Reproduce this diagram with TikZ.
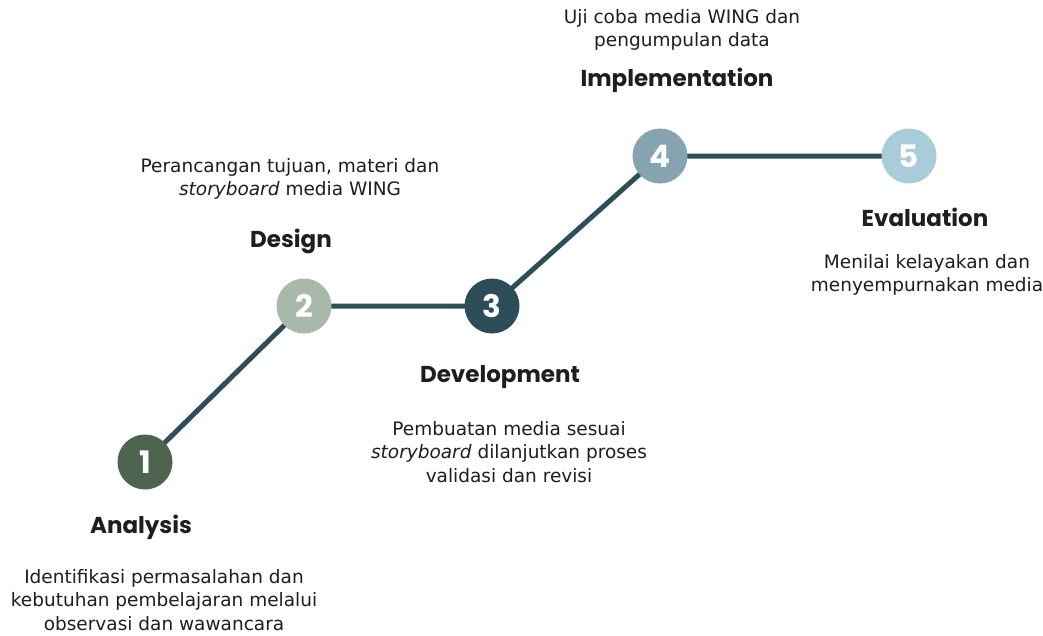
\documentclass[tikz,border=0pt]{standalone}
\usepackage{fontspec}
\setmainfont{DejaVu Sans}
\newfontfamily\titlefont{Poppins}[UprightFont=*-Bold]
\definecolor{cA}{HTML}{4D644F}
\definecolor{cB}{HTML}{A9B9A9}
\definecolor{cC}{HTML}{2D4E58}
\definecolor{cD}{HTML}{86A3B1}
\definecolor{cE}{HTML}{A9CCDB}
\definecolor{lineC}{HTML}{2E4F58}
\definecolor{txt}{HTML}{1E1E1E}
\tikzset{
  stepdot/.style={circle, minimum size=55pt, inner sep=0pt, text=white, font=\titlefont\fontsize{31}{31}\selectfont},
  steptitle/.style={font=\titlefont\fontsize{23}{25}\selectfont, text=txt},
  stepdesc/.style={align=center, font=\fontsize{18.5}{23.5}\selectfont, text=txt},
  link/.style={draw=lineC, line width=5pt}
}
\begin{document}
\begin{tikzpicture}[x=1pt,y=-1pt]
\useasboundingbox (0,0) rectangle (1043,635);
\fill[white] (0,0) rectangle (1043,635);
\coordinate (p1) at (145,462);
\coordinate (p2) at (304,306);
\coordinate (p3) at (492,306);
\coordinate (p4) at (660,156);
\coordinate (p5) at (909,156);
\draw[link] (p1) -- (p2) -- (p3) -- (p4) -- (p5);
\node[stepdot, fill=cA] (n1) at (p1) {1};
\node[stepdot, fill=cB] (n2) at (p2) {2};
\node[stepdot, fill=cC] (n3) at (p3) {3};
\node[stepdot, fill=cD] (n4) at (p4) {4};
\node[stepdot, fill=cE] (n5) at (p5) {5};
\node[steptitle] (t1) at (141,527) {Analysis};
\node[stepdesc] (d1) at (164,600) {Identifikasi permasalahan dan\\kebutuhan pembelajaran melalui\\observasi dan wawancara};
\node[steptitle] (t2) at (291,241) {Design};
\node[stepdesc] (d2) at (290,179) {Perancangan tujuan, materi dan\\\textit{storyboard} media WING};
\node[steptitle] (t3) at (500,377) {Development};
\node[stepdesc] (d3) at (509,452) {Pembuatan media sesuai\\\textit{storyboard} dilanjutkan proses\\validasi dan revisi};
\node[steptitle] (t4) at (677,80) {Implementation};
\node[stepdesc] (d4) at (682,30) {Uji coba media WING dan\\pengumpulan data};
\node[steptitle] (t5) at (925,217) {Evaluation};
\node[stepdesc] (d5) at (927,275) {Menilai kelayakan dan\\menyempurnakan media};
\end{tikzpicture}
\end{document}
